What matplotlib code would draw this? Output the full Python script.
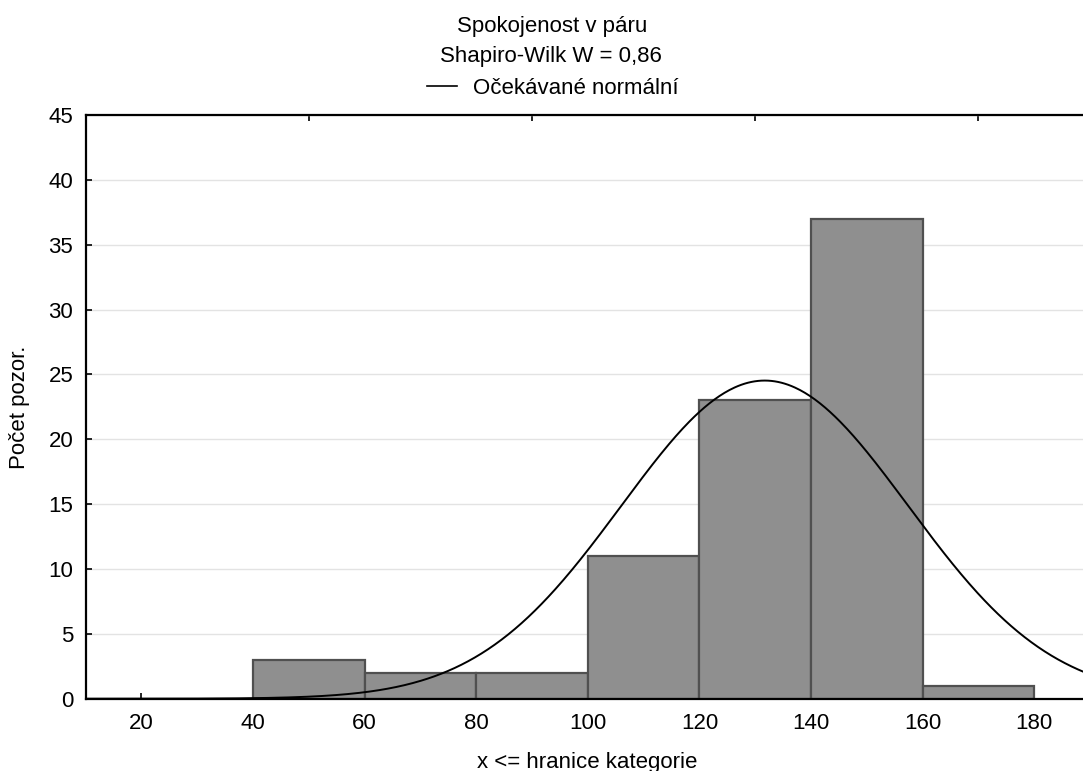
import numpy as np
import matplotlib
matplotlib.use("Agg")
import matplotlib.pyplot as plt
from matplotlib.lines import Line2D

plt.rcParams['font.family'] = ['Liberation Sans', 'DejaVu Sans']

# Data
bin_left = [40, 60, 80, 100, 120, 140, 160]
bin_width = 20
counts = [3, 2, 2, 11, 23, 37, 1]
x_ticks = [20, 40, 60, 80, 100, 120, 140, 160, 180]
top_ticks = [50, 90, 130, 170]
y_ticks = [0, 5, 10, 15, 20, 25, 30, 35, 40, 45]
mean_val = 131.7
sd_val = 25.7
n_obs = sum(counts)

title1 = "Spokojenost v páru"
title2 = "Shapiro-Wilk W = 0,86"
legend_label = "Očekávané normální"
xlabel = "x <= hranice kategorie"
ylabel = "Počet pozor."

W, H = 1083, 771
FS = 16
fig = plt.figure(figsize=(W / 100, H / 100), dpi=100)
ax = fig.add_axes([85.7 / W, (H - 698.7) / H, (1090 - 85.7) / W, (698.7 - 115) / H])

ax.set_axisbelow(True)
ax.yaxis.grid(True, color='#e3e3e3', lw=1)
ax.bar(bin_left, counts, width=bin_width, align='edge', color='#8f8f8f',
       edgecolor='#505050', linewidth=1.6, zorder=2)

xs = np.linspace(10, 190, 600)
ys = n_obs * bin_width / (sd_val * np.sqrt(2 * np.pi)) * np.exp(-0.5 * ((xs - mean_val) / sd_val) ** 2)
ax.plot(xs, ys, color='black', lw=1.4, zorder=3)

ax.set_xlim(10, 190)
ax.set_ylim(0, 45)
ax.set_xticks(x_ticks)
ax.set_yticks(y_ticks)
ax.tick_params(axis='both', direction='in', length=4, width=1.2, labelsize=FS, color='black')
ax.tick_params(axis='x', pad=10)
ax.tick_params(axis='y', pad=9)

sec = ax.secondary_xaxis('top')
sec.set_xticks(top_ticks)
sec.set_xticklabels([])
sec.tick_params(direction='in', length=4, width=1.2)
sec.spines['top'].set_visible(False)

for s in ['left', 'bottom', 'top']:
    ax.spines[s].set_linewidth(1.6)
    ax.spines[s].set_color('black')
ax.spines['right'].set_visible(False)

fig.text(587 / W, 1 - 768 / H, xlabel, fontsize=FS, ha='center', va='baseline')
fig.text(20 / W, 1 - 407 / H, ylabel, fontsize=FS, ha='center', va='center', rotation=90)

fig.text(552 / W, 1 - 32 / H, title1, fontsize=FS, ha='center', va='baseline')
fig.text(551 / W, 1 - 62 / H, title2, fontsize=FS, ha='center', va='baseline')
fig.add_artist(Line2D([427 / W, 457 / W], [1 - 86 / H, 1 - 86 / H], color='black', lw=1.2))
fig.text(473 / W, 1 - 94 / H, legend_label, fontsize=FS, ha='left', va='baseline')

fig.savefig('out.png', dpi=100)
